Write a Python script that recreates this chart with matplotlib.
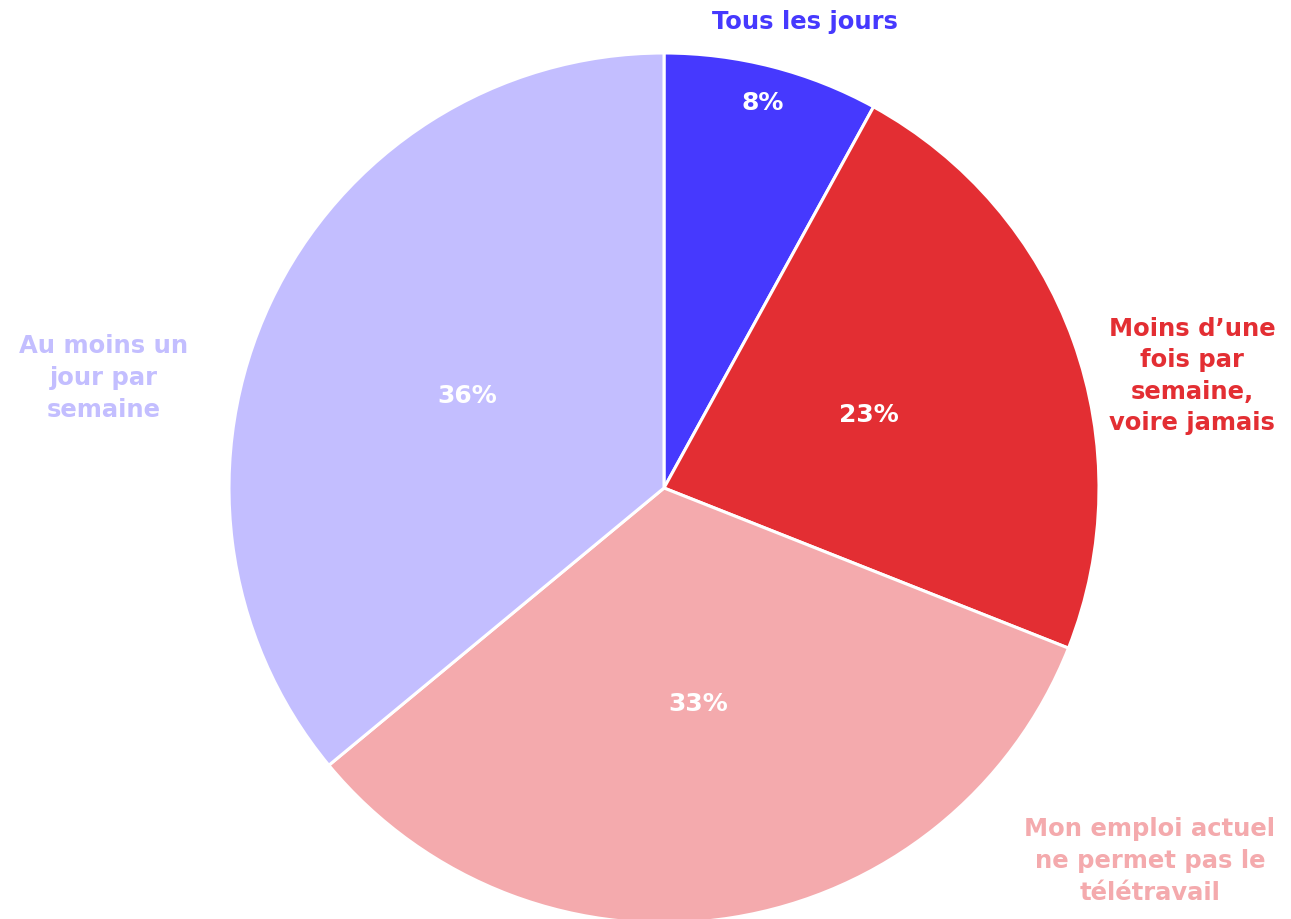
import matplotlib
matplotlib.use('Agg')
import matplotlib.pyplot as plt

# Data
labels = ['Tous les jours',
          'Moins d\u2019une\nfois par\nsemaine,\nvoire jamais',
          'Mon emploi actuel\nne permet pas le\ntélétravail',
          'Au moins un\njour par\nsemaine']
values = [8, 23, 33, 36]
colors = ['#4639FE', '#E32E33', '#F4AAAD', '#C3BEFF']

plt.rcParams['font.family'] = ['DejaVu Sans']

fig = plt.figure(figsize=(12.91, 9.2), dpi=100)
ax = fig.add_axes([0, 0, 1, 1])

cx, cy, r = 664, 489, 435
# y axis gets inverted below, so startangle=-90 is "up" and counterclock runs clockwise on screen
wedges, texts, autotexts = ax.pie(values, colors=colors, startangle=-90, counterclock=True,
                                  center=(cx, cy), radius=r, autopct='%d%%', pctdistance=0.5,
                                  wedgeprops=dict(edgecolor='white', linewidth=2.2),
                                  textprops=dict(color='white', fontsize=18, fontweight='bold'))

ax.set_xlim(0, 1291)
ax.set_ylim(920, 0)
ax.set_aspect('equal')
ax.axis('off')

# push the small slice's percent label outward
x, y = autotexts[0].get_position()
autotexts[0].set_position((cx + (x - cx) * 1.83, cy + (y - cy) * 1.83))

# outer labels
label_pos = [(805, 22), (1192, 376), (1150, 861), (104, 378)]
for lab, col, (lx, ly) in zip(labels, colors, label_pos):
    ax.text(lx, ly, lab, color=col, fontsize=17.5, fontweight='bold',
            ha='center', va='center', linespacing=1.4)

fig.savefig('out.png', dpi=100, facecolor='white')
